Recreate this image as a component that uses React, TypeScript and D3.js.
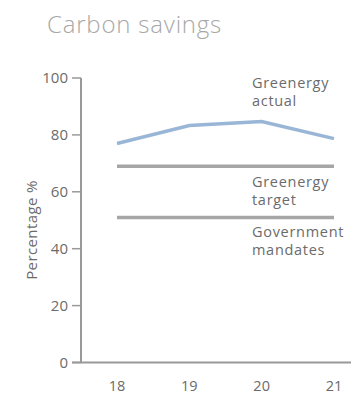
import React from "react";
import * as d3 from "d3";

const years = ["18", "19", "20", "21"];
const actual = [77.0, 83.3, 84.7, 78.7];
const target = [69, 69, 69, 69];
const mandates = [51, 51, 51, 51];
const yTicks = [0, 20, 40, 60, 80, 100];

const W = 351;
const H = 394;
const FONT = "'Open Sans', sans-serif";

export default function App() {
  const x = d3.scalePoint<string>().domain(years).range([117, 334]);
  const y = d3.scaleLinear().domain([0, 100]).range([362.5, 78]);
  const line = d3
    .line<number>()
    .x((_, i) => x(years[i]) as number)
    .y((d) => y(d));
  const axisColor = "#999999";
  const textColor = "#6b6b6b";
  return (
    <svg
      width={W}
      height={H}
      style={{ position: "absolute", left: 0, top: 0, background: "#fff" }}
    >
      <text x={47} y={33} fontFamily={FONT} fontSize={24} fontWeight={300} letterSpacing={0.8} fill="#a8a8a8">
        Carbon savings
      </text>
      {/* axes */}
      <line x1={81} x2={81} y1={y(100)} y2={y(0)} stroke={axisColor} strokeWidth={2} />
      <line x1={72} x2={W} y1={y(0)} y2={y(0)} stroke={axisColor} strokeWidth={2} />
      {yTicks.map((t) => (
        <g key={t}>
          <line x1={72} x2={81} y1={y(t)} y2={y(t)} stroke={axisColor} strokeWidth={1.5} />
          <text
            x={68}
            y={y(t)}
            dy="0.35em"
            textAnchor="end"
            fontFamily={FONT}
            fontSize={15}
            fill={textColor}
          >
            {t}
          </text>
        </g>
      ))}
      {years.map((yr) => (
        <text
          key={yr}
          x={x(yr)}
          y={391}
          textAnchor="middle"
          fontFamily={FONT}
          fontSize={14.5}
          fill={textColor}
        >
          {yr}
        </text>
      ))}
      <text
        transform={`translate(37,230) rotate(-90)`}
        textAnchor="middle"
        fontFamily={FONT}
        fontSize={15}
        letterSpacing={0.4}
        fill={textColor}
      >
        Percentage %
      </text>
      <path d={line(mandates) || ""} fill="none" stroke="#a6a6a6" strokeWidth={3.5} />
      <path d={line(target) || ""} fill="none" stroke="#a6a6a6" strokeWidth={3.5} />
      <path d={line(actual) || ""} fill="none" stroke="#9ab6d6" strokeWidth={3.5} />
      <g fontFamily={FONT} fontSize={14.5} letterSpacing={0.7} fill={textColor}>
        <text x={252} y={88}>Greenergy</text>
        <text x={252} y={106}>actual</text>
        <text x={252} y={187}>Greenergy</text>
        <text x={252} y={205}>target</text>
        <text x={252} y={237}>Government</text>
        <text x={252} y={255}>mandates</text>
      </g>
    </svg>
  );
}
